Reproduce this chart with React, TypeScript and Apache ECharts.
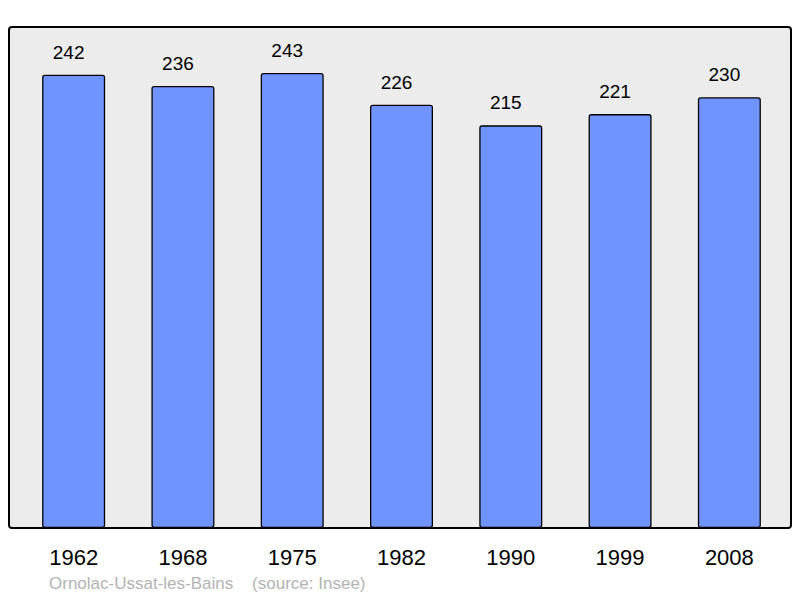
import React, { useEffect, useRef } from "react";
import * as echarts from "echarts";

const years = ["1962", "1968", "1975", "1982", "1990", "1999", "2008"];
const population = [242, 236, 243, 226, 215, 221, 230];
const sourceText = "Ornolac-Ussat-les-Bains    (source: Insee)";

export default function App() {
  const ref = useRef<HTMLDivElement>(null);
  useEffect(() => {
    if (!ref.current) return;
    const chart = echarts.init(ref.current, null, { renderer: "svg" });
    const font = "'Liberation Sans', Arial, sans-serif";
    chart.setOption({
      animation: false,
      backgroundColor: "#ffffff",
      graphic: [
        {
          type: "rect",
          z: -10,
          shape: { x: 9, y: 27, width: 782, height: 501, r: 3 },
          style: { fill: "#ececec", stroke: "#000000", lineWidth: 2 },
        },
        {
          type: "text",
          left: 49,
          top: 575,
          style: {
            text: sourceText,
            fill: "#b3b3b3",
            font: `17px ${font}`,
          },
        },
      ],
      grid: { left: 19, right: 16, top: 27, bottom: 70, containLabel: false },
      xAxis: {
        type: "category",
        data: years,
        axisLine: { show: false },
        axisTick: { show: false },
        axisLabel: {
          color: "#000",
          fontSize: 22,
          fontFamily: font,
          margin: 18,
        },
      },
      yAxis: {
        type: "value",
        min: 0,
        max: 267.5,
        show: false,
        splitLine: { show: false },
      },
      series: [
        {
          type: "bar",
          data: population,
          barWidth: 63,
          itemStyle: {
            color: "#7094ff",
            borderColor: "#000",
            borderWidth: 1.3,
            borderRadius: 2,
          },
          label: {
            show: true,
            position: "top",
            distance: 13,
            offset: [-5, 0],
            color: "#000",
            fontSize: 19,
            fontFamily: font,
          },
        },
      ],
    });
    return () => chart.dispose();
  }, []);
  return <div ref={ref} style={{ width: 800, height: 598, position: "absolute", left: 0, top: 0 }} />;
}
